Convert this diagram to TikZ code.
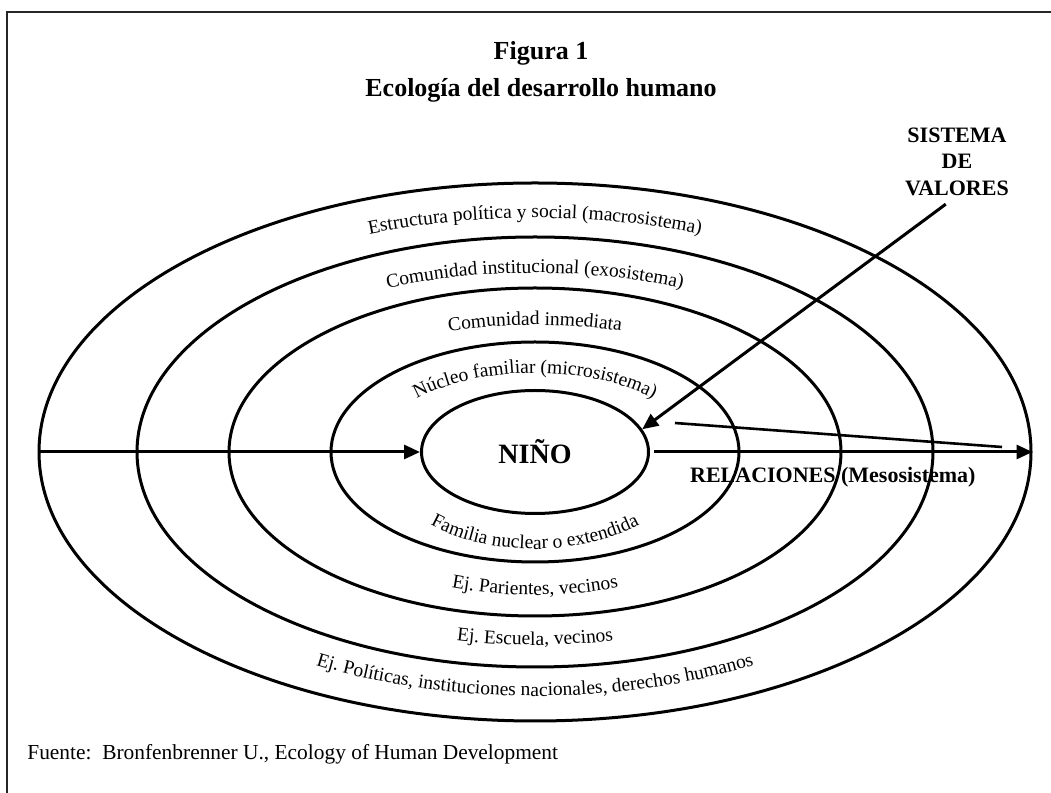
\documentclass[tikz,border=0pt]{standalone}
\usepackage{fontspec}
\setmainfont{Liberation Serif}
\usetikzlibrary{arrows.meta,shapes.geometric,decorations.text,calc,positioning}

\newcommand{\ringfont}{\fontsize{9.75pt}{11pt}\selectfont}

\tikzset{
  ring/.style={draw,ellipse,line width=1.5pt,inner sep=0pt},
  conn/.style={-{Triangle[length=8pt,width=7pt]},line width=1.5pt},
  arclabel/.style={decorate,decoration={text along path,text align=center,text={|\ringfont|#1}}},
  titlefont/.style={font=\fontsize{13pt}{15pt}\selectfont\bfseries}
}

\begin{document}
\begin{tikzpicture}[x=0.5pt,y=0.5pt]
        \useasboundingbox (0,0) rectangle (1051,793);
        \draw[line width=1pt,black!85] (7,-20) -- (7,781) -- (1080,781);
        \coordinate (c) at (535,341);

        % titulo
        \node[titlefont,anchor=base] (fig) at (541,733.5) {Figura 1};
        \node[titlefont,anchor=base] (eco) at (541,696) {Ecología del desarrollo humano};

        % anillos
        \node[ring,minimum width=496pt,minimum height=269pt] (macro) at (c) {};
        \node[ring,minimum width=398pt,minimum height=215pt] (exo) at (c) {};
        \node[ring,minimum width=306pt,minimum height=164pt] (inmed) at (c) {};
        \node[ring,minimum width=204pt,minimum height=110pt] (micro) at (c) {};
        \node[ring,minimum width=113.5pt,minimum height=61.5pt,font=\fontsize{14pt}{16pt}\selectfont\bfseries] (nino) at (c) {NIÑO};

        % textos curvos arriba
        \path[arclabel={Estructura política y social (macrosistema)}]
          ($(c)+(170:455 and 234)$) arc[start angle=170,end angle=10,x radius=455,y radius=234];
        \path[arclabel={Comunidad institucional (exosistema)}]
          ($(c)+(170:365 and 179)$) arc[start angle=170,end angle=10,x radius=365,y radius=179];
        \path[arclabel={Comunidad inmediata}]
          ($(c)+(170:280 and 127)$) arc[start angle=170,end angle=10,x radius=280,y radius=127];
        \path[arclabel={Núcleo familiar (microsistema)}]
          ($(c)+(175:160 and 79)$) arc[start angle=175,end angle=5,x radius=160,y radius=79];

        % textos curvos abajo
        \path[arclabel={Familia nuclear o extendida}]
          ($(c)+(185:158 and 97)$) arc[start angle=185,end angle=355,x radius=158,y radius=97];
        \path[arclabel={Ej. Parientes, vecinos}]
          ($(c)+(190:260 and 143)$) arc[start angle=190,end angle=350,x radius=260,y radius=143];
        \path[arclabel={Ej. Escuela, vecinos}]
          ($(c)+(190:360 and 193)$) arc[start angle=190,end angle=350,x radius=360,y radius=193];
        \path[arclabel={Ej. Políticas, instituciones nacionales, derechos humanos}]
          ($(c)+(190:450 and 244)$) arc[start angle=190,end angle=350,x radius=450,y radius=244];

        % flechas
        \node[align=center,inner sep=0pt,font=\fontsize{11pt}{13.25pt}\selectfont\bfseries] (valores) at (957,631.5) {SISTEMA\\DE\\VALORES};
        \draw[conn] (macro.west) -- (nino.west);
        \draw[conn,shorten <=2pt] (nino.east) -- (macro.east)
          node[pos=0.478,below=7pt,inner sep=0pt,font=\fontsize{11pt}{13pt}\selectfont\bfseries] (rel) {RELACIONES (Mesosistema)};
        \draw[conn,shorten <=7pt] (valores.south) -- (nino.12);
        \coordinate (s1) at (675,370);
        \coordinate (s2) at (1002,346);
        \draw[line width=1.3pt] (s1) -- (s2);

        \node[anchor=base west,inner sep=0pt,font=\fontsize{10.7pt}{12pt}\selectfont] (fuente) at (27,33) {Fuente:\ \ Bronfenbrenner U., Ecology of Human Development};
      \end{tikzpicture}
\end{document}
